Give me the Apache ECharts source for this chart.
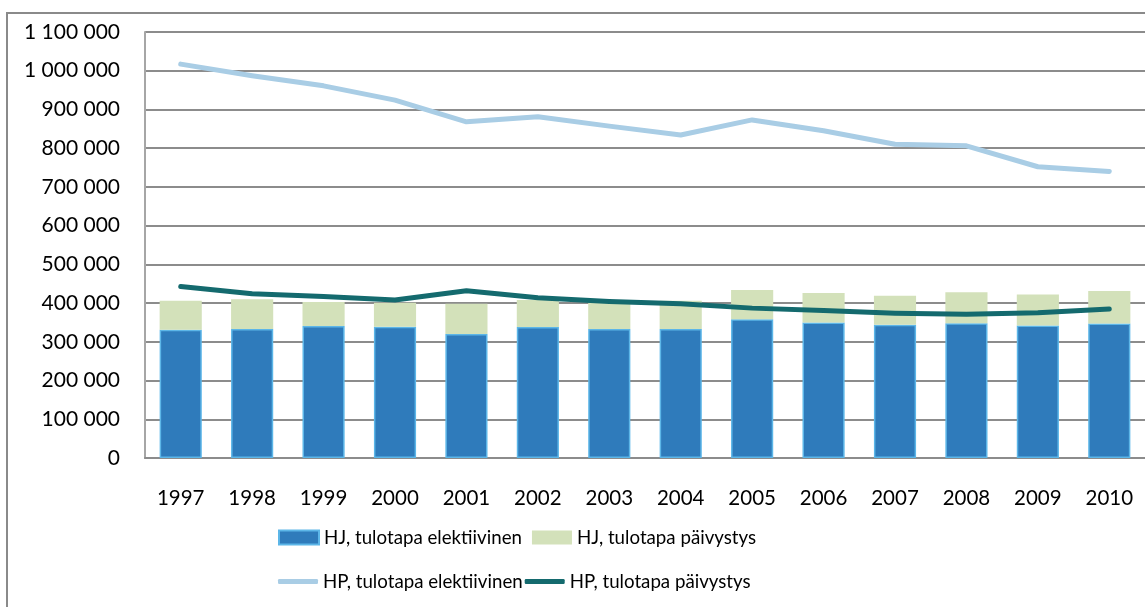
<!DOCTYPE html>
<html>
<head>
<meta charset="utf-8">
<script src="https://cdn.jsdelivr.net/npm/echarts@6/dist/echarts.min.js"></script>
<style>
html,body{margin:0;padding:0;background:#fff;}
#chart{width:1145px;height:607px;}
</style>
</head>
<body>
<div id="chart"></div>
<script>
const years = ['1997','1998','1999','2000','2001','2002','2003','2004','2005','2006','2007','2008','2009','2010'];
const hjElektiivinen = [331000,333000,341000,339000,320000,338000,333000,333000,358000,350000,344000,348000,342000,347000];
const hjPaivystysTotal = [406000,410000,403000,401000,398000,408000,401000,406000,434000,426000,419000,428000,422000,431000];
const hpElektiivinen = [1017000,987000,961000,924000,868000,881000,857000,834000,873000,845000,810000,806000,752000,740000];
const hpPaivystys = [443000,424000,417000,408000,432000,414000,404000,398000,387000,381000,374000,371000,375000,385000];
const yTicks = [0,100000,200000,300000,400000,500000,600000,700000,800000,900000,1000000,1100000];

const hjPaivystys = hjPaivystysTotal.map((t,i)=>t-hjElektiivinen[i]);
const names = ['HJ, tulotapa elektiivinen','HJ, tulotapa päivystys','HP, tulotapa elektiivinen','HP, tulotapa päivystys'];
const font = 'Lato, "Open Sans", sans-serif';

const chart = echarts.init(document.getElementById('chart'));
chart.setOption({
  animation:false,
  backgroundColor:'#fff',
  graphic:[{type:'rect',shape:{x:7,y:13,width:1200,height:700},style:{fill:'none',stroke:'#8a8a8a',lineWidth:2},z:-1}],
  grid:{left:145,top:32,width:1002,height:426,containLabel:false},
  legend:[
    {data:[{name:names[0],icon:'rect'},{name:names[1],icon:'rect'}],left:273,top:523,itemWidth:40,itemHeight:14,itemGap:10,
     textStyle:{fontFamily:font,fontSize:18.7,color:'#000'}},
    {data:[{name:names[2],icon:'roundRect'},{name:names[3],icon:'roundRect'}],left:273,top:567,itemWidth:40,itemHeight:5,itemGap:2,
     textStyle:{fontFamily:font,fontSize:18.7,color:'#000'}}
  ],
  xAxis:{type:'category',data:years,
    axisLine:{lineStyle:{color:'#8c8c8c',width:2}},axisTick:{show:false},
    axisLabel:{fontFamily:font,fontSize:20.5,color:'#000',margin:30}},
  yAxis:{type:'value',min:0,max:1100000,interval:100000,
    axisLine:{show:true,lineStyle:{color:'#a6a6a6',width:2}},axisTick:{show:false},
    splitLine:{lineStyle:{color:'#8c8c8c',width:2}},
    axisLabel:{fontFamily:font,fontSize:21,color:'#000',margin:25,
      formatter:v=>yTicks.includes(v)?String(v).replace(/\B(?=(\d{3})+(?!\d))/g,' '):''}},
  series:[
    {name:names[0],type:'bar',stack:'hj',data:hjElektiivinen,barCategoryGap:'41%',
     itemStyle:{color:'#2f7bbb',borderColor:'#5cb6e8',borderWidth:1.5}},
    {name:names[1],type:'bar',stack:'hj',data:hjPaivystys,
     itemStyle:{color:'#d3e1ba'}},
    {name:names[2],type:'line',data:hpElektiivinen,symbol:'none',
     itemStyle:{color:'#a9cde5'},lineStyle:{color:'#a9cde5',width:5,cap:'round',join:'round'}},
    {name:names[3],type:'line',data:hpPaivystys,symbol:'none',
     itemStyle:{color:'#146a6e'},lineStyle:{color:'#146a6e',width:5,cap:'round',join:'round'}}
  ]
});
</script>
</body>
</html>
